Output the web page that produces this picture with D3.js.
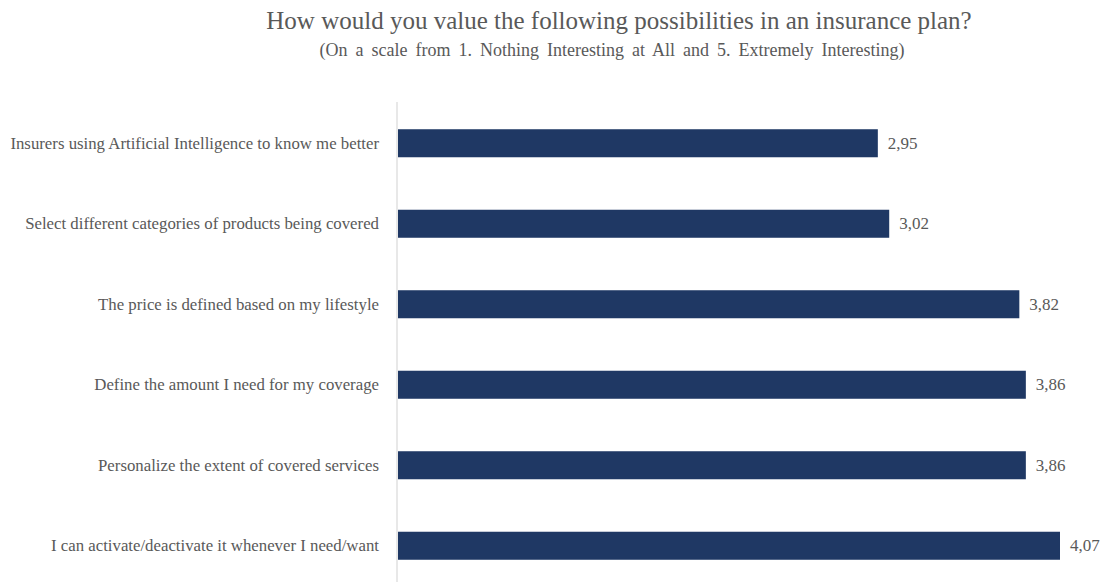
<!DOCTYPE html>
<html>
<head>
<meta charset="utf-8">
<script src="https://cdn.jsdelivr.net/npm/d3@7"></script>
<style>
  html, body { margin: 0; padding: 0; background: #fff; }
  svg { display: block; }
  text { font-family: "Liberation Serif", "Times New Roman", serif; fill: #595959; }
</style>
</head>
<body>
<svg id="chart" width="1106" height="582"></svg>
<script>
// Survey items, top to bottom
const categories = [
  "Insurers using Artificial Intelligence to know me better",
  "Select different categories of products being covered",
  "The price is defined based on my lifestyle",
  "Define the amount I need for my coverage",
  "Personalize the extent of covered services",
  "I can activate/deactivate it whenever I need/want"
];
// Mean rating per item (1–5 scale)
const values = [2.95, 3.02, 3.82, 3.86, 3.86, 4.07];
// Value labels, written with a decimal comma
const valueLabels = values.map(v => v.toFixed(2).replace(".", ","));

const titleText = "How would you value the following possibilities in an insurance plan?";
const subtitleText = "(On a scale from 1. Nothing Interesting at All and 5. Extremely Interesting)";

const serif = "\"Liberation Serif\", \"Times New Roman\", serif";
const svg = d3.select("#chart");

const x0 = 398;
const x = d3.scaleLinear().domain([0, 4.07]).range([x0, 1060]);
const y = d3.scaleBand()
  .domain(categories)
  .range([103, 586])
  .paddingInner(0.652)
  .paddingOuter(0.326);

// Title and subtitle
svg.append("text")
  .attr("x", 619).attr("y", 29)
  .attr("text-anchor", "middle")
  .style("font-size", "25px")
  .text(titleText);
svg.append("text")
  .attr("x", 612).attr("y", 56)
  .attr("text-anchor", "middle")
  .style("font-size", "18px")
  .style("word-spacing", "3.5px")
  .text(subtitleText);

// Category axis (line only, labels on the left)
const yAxis = svg.append("g")
  .attr("transform", `translate(${x0 - 1},0)`)
  .call(d3.axisLeft(y).tickSize(0).tickPadding(18));
yAxis.select(".domain")
  .attr("d", "M0,102V582")
  .attr("stroke", "#d9d9d9")
  .attr("stroke-width", 1.2);
yAxis.selectAll(".tick text")
  .style("font-size", "16.8px")
  .style("font-family", serif)
  .attr("fill", "#595959");

// Bars
svg.append("g").selectAll("rect")
  .data(values)
  .join("rect")
  .attr("x", x(0))
  .attr("y", (d, i) => y(categories[i]))
  .attr("width", d => x(d) - x(0))
  .attr("height", y.bandwidth())
  .attr("fill", "#1f3864");

// Value labels
svg.append("g").selectAll("text")
  .data(values)
  .join("text")
  .attr("x", d => x(d) + 10)
  .attr("y", (d, i) => y(categories[i]) + y.bandwidth() / 2)
  .attr("dy", "0.33em")
  .style("font-size", "17px")
  .text((d, i) => valueLabels[i]);
</script>
</body>
</html>
